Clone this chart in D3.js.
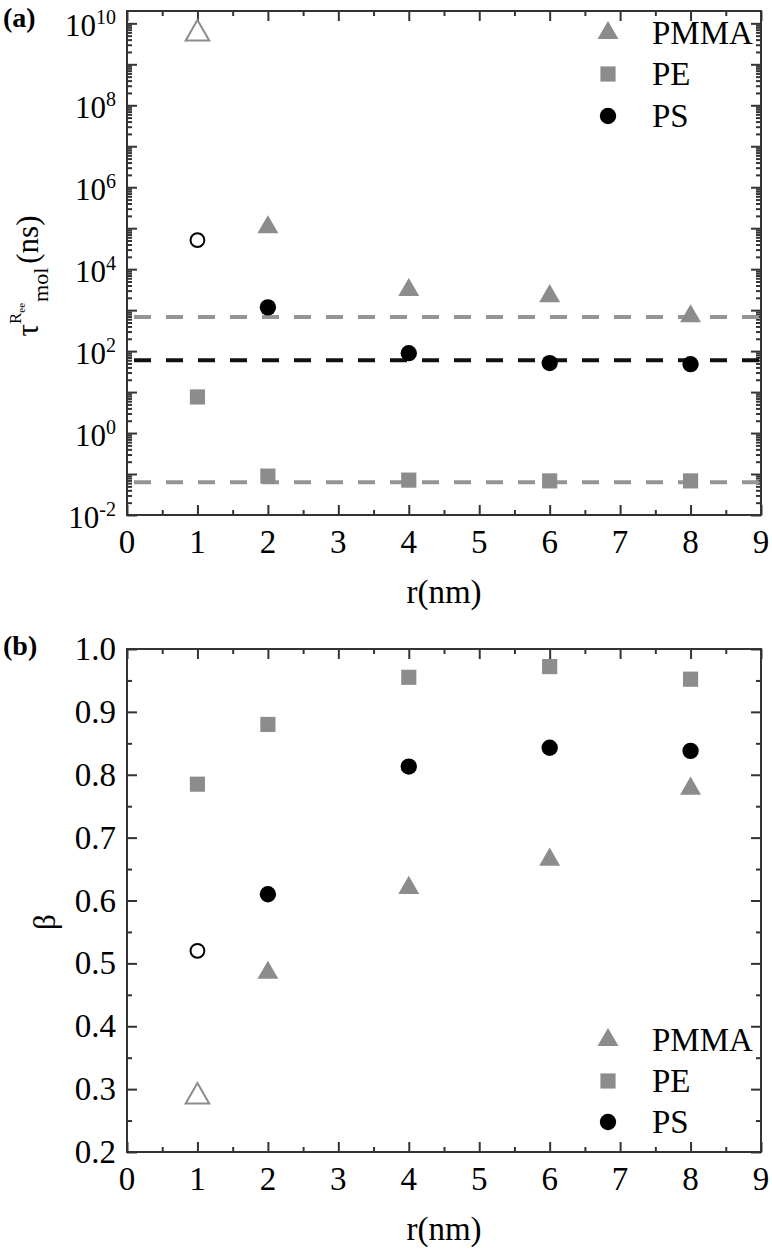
<!DOCTYPE html>
<html>
<head>
	<script src="https://cdn.jsdelivr.net/npm/d3@7"></script>
	<style>
		html, body {
			padding: 0;
			margin: 0;
			background: white;
		}
	</style>
</head>
<body>
	<script>
		// ~ ~ ~ DATA ~ ~ ~
		const R_VALUES = [1, 2, 4, 6, 8];
		const SERIES = ["PMMA", "PE", "PS"];

		// panel (a): relaxation time tau (ns), log scale
		const TAU_PMMA = [5.6e9, 1.05e5, 3.1e3, 2.2e3, 7.1e2];
		const TAU_PE = [7.6, 0.089, 0.071, 0.068, 0.068];
		const TAU_PS = [5.1e4, 1.17e3, 89, 51, 48];
		const TAU_BULK_GRAY = [680, 0.063];   // gray dashed references
		const TAU_BULK_BLACK = [60];          // black dashed reference

		// panel (b): stretching exponent beta
		const BETA_PMMA = [0.288, 0.485, 0.62, 0.665, 0.778];
		const BETA_PE = [0.785, 0.88, 0.955, 0.972, 0.952];
		const BETA_PS = [0.52, 0.61, 0.813, 0.843, 0.838];

		// first point of PMMA and PS is drawn hollow
		const HOLLOW_FIRST = { PMMA: true, PE: false, PS: true };

		const X_TICKS = [0, 1, 2, 3, 4, 5, 6, 7, 8, 9];
		const TAU_LABEL_EXPONENTS = [-2, 0, 2, 4, 6, 8, 10];
		const BETA_TICKS = [0.2, 0.3, 0.4, 0.5, 0.6, 0.7, 0.8, 0.9, 1.0];

		// ~ ~ ~ STYLE ~ ~ ~
		const WIDTH = 772, HEIGHT = 1255;
		const GRAY = "#8c8c8c";
		const DASH_GRAY = "#959595";
		const AXIS_COLOR = "#333";
		const FONT_SIZE = 33;
		const SERIF = "'Liberation Serif', 'DejaVu Serif', serif";

		var svg = d3.select("body").append("svg")
			.attr("width", WIDTH)
			.attr("height", HEIGHT)
			.attr("font-family", SERIF)
			.style("font-family", SERIF);

		var x = d3.scaleLinear().domain([0, 9]).range([127, 761]);

		var yTau = d3.scaleLog().domain([1e-2, 2e10]).range([515, 11]);
		var yBeta = d3.scaleLinear().domain([0.2, 1.0]).range([1152, 649]);

		var colorOf = { PMMA: GRAY, PE: GRAY, PS: "black" };
		var shapeOf = { PMMA: d3.symbolTriangle, PE: d3.symbolSquare, PS: d3.symbolCircle };
		var sizeOf = { PMMA: 190, PE: 230, PS: 210 };

		var addText = function(parent) {
			return parent.append("text").attr("font-family", SERIF);
		};

		var drawFrame = function(y, majorY, minorY) {
			var top = y.range()[1], bottom = y.range()[0];
			var g = svg.append("g");
			var xMinor = d3.range(0.5, 9, 1);

			var axes = [
				[d3.axisBottom(x).tickValues(X_TICKS).tickSize(-10), "translate(0," + bottom + ")"],
				[d3.axisBottom(x).tickValues(xMinor).tickSize(-5), "translate(0," + bottom + ")"],
				[d3.axisTop(x).tickValues(X_TICKS).tickSize(-10), "translate(0," + top + ")"],
				[d3.axisTop(x).tickValues(xMinor).tickSize(-5), "translate(0," + top + ")"],
				[d3.axisLeft(y).tickValues(majorY).tickSize(-10), "translate(127,0)"],
				[d3.axisLeft(y).tickValues(minorY).tickSize(-5), "translate(127,0)"],
				[d3.axisRight(y).tickValues(majorY).tickSize(-10), "translate(761,0)"],
				[d3.axisRight(y).tickValues(minorY).tickSize(-5), "translate(761,0)"]
			];
			axes.forEach(function(a) {
				var ag = g.append("g")
					.attr("transform", a[1])
					.call(a[0].tickFormat(""));
				ag.select(".domain").remove();
				ag.selectAll("text").remove();
				ag.selectAll("line")
					.attr("stroke", AXIS_COLOR)
					.attr("stroke-width", 2);
			});

			g.append("rect")
				.attr("x", x(0))
				.attr("y", top)
				.attr("width", x(9) - x(0))
				.attr("height", bottom - top)
				.attr("fill", "none")
				.attr("stroke", AXIS_COLOR)
				.attr("stroke-width", 2);

			// x tick labels
			X_TICKS.forEach(function(d) {
				addText(g)
					.attr("x", x(d))
					.attr("y", bottom + 38)
					.attr("text-anchor", "middle")
					.attr("font-size", FONT_SIZE)
					.text(d);
			});

			addText(g)
				.attr("x", (x(0) + x(9)) / 2)
				.attr("y", bottom + 88)
				.attr("text-anchor", "middle")
				.attr("font-size", FONT_SIZE)
				.text("r(nm)");
		};

		var drawPoints = function(y, valuesBySeries) {
			SERIES.forEach(function(s) {
				var vals = valuesBySeries[s];
				svg.append("g").selectAll("path")
					.data(R_VALUES.map((r, i) => ({ r: r, v: vals[i], i: i })))
					.enter().append("path")
					.attr("transform", (d) => "translate(" + x(d.r) + "," + y(d.v) + ")")
					.attr("d", function(d) {
						var hollow = HOLLOW_FIRST[s] && d.i === 0;
						var size = hollow ? (s === "PMMA" ? 240 : 150) : sizeOf[s];
						return d3.symbol().type(shapeOf[s]).size(size)();
					})
					.attr("fill", (d) => (HOLLOW_FIRST[s] && d.i === 0) ? "none" : colorOf[s])
					.attr("stroke", (d) => (HOLLOW_FIRST[s] && d.i === 0) ? colorOf[s] : "none")
					.attr("stroke-width", 2);
			});
		};

		var drawLegend = function(ys) {
			SERIES.forEach(function(s, i) {
				svg.append("path")
					.attr("transform", "translate(608," + ys[i] + ")")
					.attr("d", d3.symbol().type(shapeOf[s]).size(sizeOf[s])())
					.attr("fill", colorOf[s]);
				addText(svg)
					.attr("x", 652)
					.attr("y", ys[i] + 11)
					.attr("font-size", FONT_SIZE)
					.text(s);
			});
		};

		// ~ ~ ~ PANEL (a) ~ ~ ~
		var decades = d3.range(-2, 11);
		var tauMinor = [];
		decades.forEach(function(d) {
			for (var k = 2; k <= 9; k++) {
				var v = k * Math.pow(10, d);
				if (v < yTau.domain()[1])
					tauMinor.push(v);
			}
		});
		drawFrame(yTau, decades.map((d) => Math.pow(10, d)), tauMinor);

		var dashes = TAU_BULK_GRAY.map((v) => ({ v: v, c: DASH_GRAY }))
			.concat(TAU_BULK_BLACK.map((v) => ({ v: v, c: "#111" })));
		svg.append("g").selectAll("line")
			.data(dashes)
			.enter().append("line")
			.attr("x1", x(0) + 2)
			.attr("x2", x(9) - 2)
			.attr("y1", (d) => yTau(d.v))
			.attr("y2", (d) => yTau(d.v))
			.attr("stroke", (d) => d.c)
			.attr("stroke-width", 4)
			.attr("stroke-dasharray", "17,15")
			.attr("stroke-dashoffset", -5);

		drawPoints(yTau, { PMMA: TAU_PMMA, PE: TAU_PE, PS: TAU_PS });

		TAU_LABEL_EXPONENTS.forEach(function(d) {
			var t = addText(svg)
				.attr("x", 116)
				.attr("y", yTau(Math.pow(10, d)) + 13)
				.attr("text-anchor", "end")
				.attr("font-size", 31);
			t.append("tspan").text("10");
			t.append("tspan")
				.attr("font-size", 20)
				.attr("dy", -12)
				.text(d);
		});

		var tauTitle = addText(svg)
			.attr("transform", "translate(38,276) rotate(-90)")
			.attr("text-anchor", "middle")
			.attr("font-size", 31);
		tauTitle.append("tspan").text("τ");
		tauTitle.append("tspan").attr("font-size", 17).attr("dy", -17).text("R");
		tauTitle.append("tspan").attr("font-size", 11).attr("dy", 4).text("ee");
		tauTitle.append("tspan").attr("font-size", 22).attr("dy", 23).attr("dx", 1).text("mol");
		tauTitle.append("tspan").attr("dy", -10).attr("dx", 4).text("(ns)");

		addText(svg)
			.attr("x", 3)
			.attr("y", 27)
			.attr("font-size", 28)
			.attr("font-weight", "bold")
			.text("(a)");

		drawLegend([33, 74, 116]);

		// ~ ~ ~ PANEL (b) ~ ~ ~
		var betaMinor = d3.range(0.25, 1.0, 0.1);
		drawFrame(yBeta, BETA_TICKS, betaMinor);
		drawPoints(yBeta, { PMMA: BETA_PMMA, PE: BETA_PE, PS: BETA_PS });

		BETA_TICKS.forEach(function(d) {
			addText(svg)
				.attr("x", 116)
				.attr("y", yBeta(d) + 11)
				.attr("text-anchor", "end")
				.attr("font-size", FONT_SIZE)
				.text(d3.format(".1f")(d));
		});

		addText(svg)
			.attr("transform", "translate(55,922) rotate(-90)")
			.attr("text-anchor", "middle")
			.attr("font-size", 31)
			.text("β");

		addText(svg)
			.attr("x", 3)
			.attr("y", 655)
			.attr("font-size", 28)
			.attr("font-weight", "bold")
			.text("(b)");

		drawLegend([1040, 1081, 1122]);
	</script>
</body>
</html>
